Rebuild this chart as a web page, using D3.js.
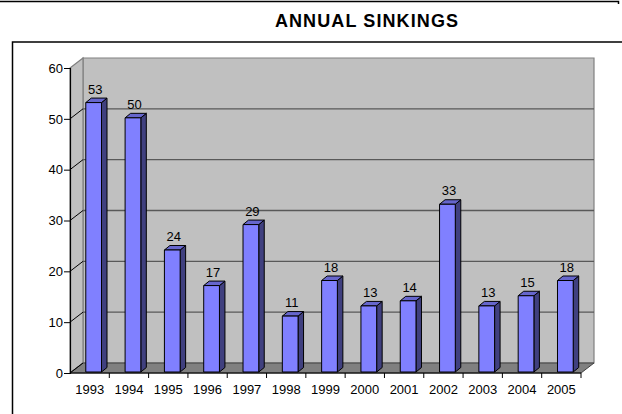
<!DOCTYPE html>
<html>
<head>
<meta charset="utf-8">
<script src="https://cdn.jsdelivr.net/npm/d3@7"></script>
<style>
  html, body { margin: 0; padding: 0; background: #fff; }
  svg { display: block; }
  text { font-family: "Liberation Sans", Arial, sans-serif; }
</style>
</head>
<body>
<svg id="chart" width="622" height="414"></svg>
<script>
// Annual sinkings per year
const years = ["1993","1994","1995","1996","1997","1998","1999","2000","2001","2002","2003","2004","2005"];
const sinkings = [53, 50, 24, 17, 29, 11, 18, 13, 14, 33, 13, 15, 18];
const yTicks = [0, 10, 20, 30, 40, 50, 60];
const title = "ANNUAL SINKINGS";

const svg = d3.select("#chart");

// front plane of the 3D box and its depth offset
const x = d3.scaleBand().domain(years).range([70, 581]).paddingInner(0).paddingOuter(0);
const y = d3.scaleLinear().domain([0, 60]).range([373, 68]);
const depth = { dx: 13, dy: -10 };

// frames
svg.append("path").attr("d", "M0,1.5H618.5V4").attr("fill", "none").attr("stroke", "#000").attr("stroke-width", 1.5);
svg.append("rect").attr("x", 12.5).attr("y", 42).attr("width", 640).attr("height", 400)
  .attr("fill", "none").attr("stroke", "#000").attr("stroke-width", 1.5);

svg.append("text").attr("x", 367).attr("y", 27).attr("text-anchor", "middle")
  .attr("font-size", 18).attr("font-weight", "bold").attr("letter-spacing", 1.1)
  .text(title);

const x0 = x.range()[0], x1 = x.range()[1];
const yTop = y(60), yBot = y(0);
const pt = (px, py) => `${px},${py}`;

// back wall
svg.append("polygon")
  .attr("points", [pt(x0 + depth.dx, yTop + depth.dy), pt(x1 + depth.dx, yTop + depth.dy),
                   pt(x1 + depth.dx, yBot + depth.dy), pt(x0 + depth.dx, yBot + depth.dy)].join(" "))
  .attr("fill", "#c0c0c0").attr("stroke", "#808080").attr("stroke-width", 1.2);
// side wall
svg.append("polygon")
  .attr("points", [pt(x0, yTop), pt(x0 + depth.dx, yTop + depth.dy),
                   pt(x0 + depth.dx, yBot + depth.dy), pt(x0, yBot)].join(" "))
  .attr("fill", "#c0c0c0").attr("stroke", "#808080").attr("stroke-width", 1.2);
// floor
svg.append("polygon")
  .attr("points", [pt(x0, yBot), pt(x1, yBot), pt(x1 + depth.dx, yBot + depth.dy),
                   pt(x0 + depth.dx, yBot + depth.dy)].join(" "))
  .attr("fill", "#808080").attr("stroke", "#404040").attr("stroke-width", 1);

// gridlines on back wall and side wall
const grid = svg.append("g");
yTicks.filter(v => v > 0 && v < 60).forEach(v => {
  grid.append("line")
    .attr("x1", x0 + depth.dx).attr("x2", x1 + depth.dx)
    .attr("y1", y(v) + depth.dy).attr("y2", y(v) + depth.dy)
    .attr("stroke", "#595959").attr("stroke-width", 1.3);
});
yTicks.filter(v => v < 60).forEach(v => {
  grid.append("line")
    .attr("x1", x0).attr("y1", y(v))
    .attr("x2", x0 + depth.dx).attr("y2", y(v) + depth.dy)
    .attr("stroke", "#000").attr("stroke-width", 1);
});

// bars
const bw = x.bandwidth() * 0.4;
const shift = 4;
const bd = { dx: 5.5, dy: -4.5 };
const bars = svg.append("g");
years.forEach((yr, i) => {
  const v = sinkings[i];
  const cx = x(yr) + x.bandwidth() / 2 + shift;
  const L = cx - bw / 2, R = cx + bw / 2;
  const T = y(v) - 1, B = y(0) - 1;
  const g = bars.append("g").attr("stroke", "#000").attr("stroke-width", 1).attr("stroke-linejoin", "round");
  g.append("polygon")
    .attr("points", [pt(R, T), pt(R + bd.dx, T + bd.dy), pt(R + bd.dx, B + bd.dy), pt(R, B)].join(" "))
    .attr("fill", "#40407f");
  g.append("polygon")
    .attr("points", [pt(L, T), pt(L + bd.dx, T + bd.dy), pt(R + bd.dx, T + bd.dy), pt(R, T)].join(" "))
    .attr("fill", "#6666cc");
  g.append("rect").attr("x", L).attr("y", T).attr("width", bw).attr("height", B - T)
    .attr("fill", "#8080ff");
  bars.append("text")
    .attr("x", cx + 1.5).attr("y", T - 9)
    .attr("text-anchor", "middle").attr("font-size", 13).attr("fill", "#000")
    .text(v);
});

// value axis
const yAxis = svg.append("g").attr("transform", `translate(${x0},0)`)
  .call(d3.axisLeft(y).tickValues(yTicks).tickSize(6).tickPadding(1).tickFormat(d3.format("d")));
yAxis.select(".domain").attr("stroke", "#000").attr("stroke-width", 1.2);
yAxis.selectAll(".tick line").attr("stroke", "#000");
yAxis.selectAll(".tick text").attr("font-size", 13).attr("fill", "#000")
  .attr("font-family", "'Liberation Sans', Arial, sans-serif");

// category axis (ticks at band boundaries)
const xa = svg.append("g");
xa.append("line").attr("x1", x0).attr("x2", x1).attr("y1", yBot).attr("y2", yBot)
  .attr("stroke", "#000").attr("stroke-width", 1.2);
years.forEach(yr => {
  const bx = x(yr) + x.bandwidth();
  xa.append("line").attr("x1", bx).attr("x2", bx).attr("y1", yBot).attr("y2", yBot + 5)
    .attr("stroke", "#000");
  xa.append("text").attr("x", x(yr) + x.bandwidth() / 2).attr("y", yBot + 21)
    .attr("text-anchor", "middle").attr("font-size", 13).attr("fill", "#000").text(yr);
});
</script>
</body>
</html>
